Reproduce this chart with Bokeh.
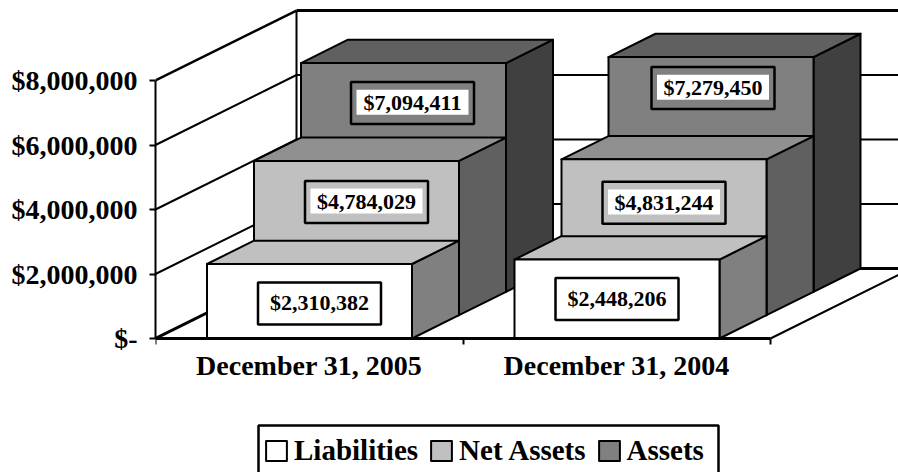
from bokeh.plotting import figure
from bokeh.embed import file_html
from bokeh.resources import INLINE
from bokeh.core.properties import value
from bokeh.models import (FixedTicker, Range1d, Legend, LegendItem, LinearAxis)

categories = ["December 31, 2005", "December 31, 2004"]
series = ["Liabilities", "Net Assets", "Assets"]
liabilities = [2310382, 2448206]
net_assets = [4784029, 4831244]
assets = [7094411, 7279450]
y_ticks = [0, 2000000, 4000000, 6000000, 8000000]
y_tick_labels = ["$-", "$2,000,000", "$4,000,000", "$6,000,000", "$8,000,000"]
face = ["#FFFFFF", "#C0C0C0", "#808080"]
top = ["#C0C0C0", "#909090", "#606060"]
side = ["#808080", "#606060", "#404040"]

# scale of the picture
PX_X = 1 / 307.5           # category units per pixel
PX_Y = 1e6 / 32.25         # dollars per pixel
DX, DY = 47 * PX_X, 23.33 * PX_Y   # oblique offset of one series row
BAR_L, BAR_W = 51.5 * PX_X, 205 * PX_X
YMAX = 8000000
FONT = "Liberation Serif"

# how far each value box is moved from its bar (pixels), per category, per series
box_dx = [[10, 10, 9], [0, 0, 2]]
box_drop = [[39.5, 41, 40], [39.5, 43.5, 31]]

p = figure(width=898, height=472, output_backend="svg", toolbar_location=None,
           x_range=Range1d(0, 743 * PX_X), y_range=Range1d(-134 * PX_Y, 338 * PX_Y),
           min_border_left=155, min_border_right=0, min_border_top=0, min_border_bottom=0,
           x_axis_location=None, y_axis_location=None, outline_line_color=None,
           background_fill_color="white", border_fill_color="white")
p.grid.visible = False

# walls and floor
X_END = 2.0
for t in y_ticks[1:]:
    w = 3 if t == YMAX else 2
    p.line([0, 3 * DX], [t, t + 3 * DY], line_color="black", line_width=w if t != YMAX else 2.5)
    p.line([3 * DX, X_END + 3 * DX], [t + 3 * DY, t + 3 * DY], line_color="black", line_width=w)
p.line([3 * DX, 3 * DX], [3 * DY, YMAX + 3 * DY], line_color="black", line_width=2)
p.line([0, 3 * DX], [0, 3 * DY], line_color="black", line_width=3)
p.line([3 * DX, X_END + 3 * DX], [3 * DY, 3 * DY], line_color="black", line_width=3)
p.line([X_END, X_END + 3 * DX], [0, 3 * DY], line_color="black", line_width=2)

legend_rends = {}
values = [liabilities, net_assets, assets]
for c in range(len(categories)):
    for s in reversed(range(len(series))):
        v = values[s][c]
        x0 = c + BAR_L + s * DX
        x1 = x0 + BAR_W
        b = s * DY
        kw = dict(line_color="black", line_width=2, line_join="round")
        p.patch([x1, x1 + DX, x1 + DX, x1], [b, b + DY, b + DY + v, b + v], fill_color=side[s], **kw)
        p.patch([x0, x1, x1 + DX, x0 + DX], [b + v, b + v, b + DY + v, b + DY + v], fill_color=top[s], **kw)
        r = p.patch([x0, x1, x1, x0], [b, b, b + v, b + v], fill_color=face[s], **kw)
        legend_rends[s] = r

# value boxes
for c in range(len(categories)):
    for s in range(len(series)):
        v = values[s][c]
        cx = c + BAR_L + s * DX + BAR_W / 2 + box_dx[c][s] * PX_X
        cy = s * DY + v - box_drop[c][s] * PX_Y
        p.rect([cx], [cy + 0.8 * PX_Y], width=112, height=25, width_units="screen", height_units="screen",
               fill_color="white", line_color=None)
        p.rect([cx], [cy], width=123, height=42, width_units="screen", height_units="screen",
               fill_color=None, line_color="black", line_width=2.5)
        p.text([cx], [cy + 0.8 * PX_Y], text=[f"${v:,}"], text_font=value(FONT), text_font_style="bold",
               text_font_size="22px", text_color="black", text_align="center", text_baseline="middle")

# axes
yax = LinearAxis(ticker=FixedTicker(ticks=y_ticks), bounds=(0, YMAX),
                 major_label_overrides={t: l for t, l in zip(y_ticks, y_tick_labels)},
                 major_label_text_font=FONT, major_label_text_font_style="bold",
                 major_label_text_font_size="28px", major_label_text_color="black",
                 major_tick_in=0, major_tick_out=6, major_tick_line_width=2,
                 minor_tick_line_color=None, axis_line_width=2, major_label_standoff=12)
p.add_layout(yax, "left")

xax = LinearAxis(ticker=FixedTicker(ticks=[0.5, 1.5], minor_ticks=[0, 1, 2]), bounds=(0, 2),
                 fixed_location=0,
                 major_label_overrides={0.5: categories[0], 1.5: categories[1]},
                 major_label_text_font=FONT, major_label_text_font_style="bold",
                 major_label_text_font_size="28px", major_label_text_color="black",
                 major_tick_in=0, major_tick_out=0, minor_tick_in=0, minor_tick_out=6,
                 minor_tick_line_width=2, axis_line_width=3, major_label_standoff=5)
p.add_layout(xax, "below")

# legend frame, wider than the legend's own contents
p.quad(left=[103 * PX_X], right=[563 * PX_X], top=[-87 * PX_Y], bottom=[-140 * PX_Y],
       fill_color="white", line_color="black", line_width=2.5)

legend = Legend(items=[LegendItem(label=series[i], renderers=[legend_rends[i]]) for i in range(3)],
                orientation="horizontal", location=(108, 5),
                label_text_font=FONT, label_text_font_style="bold", label_text_font_size="29px",
                label_text_color="black", glyph_width=26, glyph_height=25,
                label_standoff=5, spacing=10, padding=5, margin=0,
                border_line_color=None, background_fill_alpha=0)
p.add_layout(legend, "center")

open("out.html", "w").write(file_html(p, INLINE))
